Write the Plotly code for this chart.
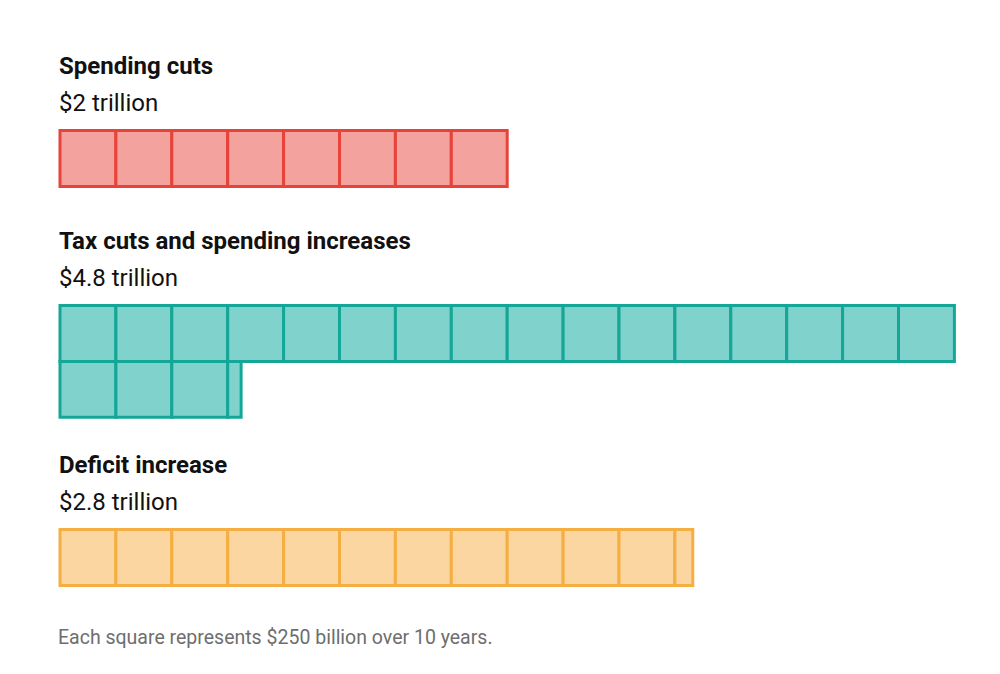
import math
import plotly.graph_objects as go

# ---- data ----
categories = ["Spending cuts", "Tax cuts and spending increases", "Deficit increase"]
values_trillion = [2.0, 4.81, 2.83]          # as drawn by the squares
amount_labels = ["$2 trillion", "$4.8 trillion", "$2.8 trillion"]
square_value_trillion = 0.25
squares_per_row = 16
footnote = "Each square represents $250 billion over 10 years."

# ---- styles ----
fills = ["#f4a29d", "#80d3cd", "#fbd6a0"]
edges = ["#e6433b", "#14a697", "#f5ae42"]
PX = 55.9  # pixels per square
row_tops_px = [130.5, 305.5, 529.5]
row_tops = [t / PX for t in row_tops_px]   # in square units (y axis downward)

PAGE_OFFSET = 8  # browser default body margin
W, H = 1000 - 2 * PAGE_OFFSET, 674 - 2 * PAGE_OFFSET
x0_px = 60.0

fig = go.Figure()
shapes = []
annotations = []

for k, (cat, val, lab) in enumerate(zip(categories, values_trillion, amount_labels)):
    n = val / square_value_trillion
    full = int(math.floor(n + 1e-9))
    rem = n - full
    top = row_tops[k]
    cells = [(i, 1.0) for i in range(full)]
    if rem > 1e-6:
        cells.append((full, rem))
    for i, w in cells:
        r, c = divmod(i, squares_per_row)
        shapes.append(dict(
            type="rect", xref="x", yref="y",
            x0=c, x1=c + w, y0=top + r, y1=top + r + 1,
            fillcolor=fills[k], line=dict(color=edges[k], width=3),
            layer="above",
        ))
    annotations.append(dict(
        x=-0.05, y=top - 1.16, xref="x", yref="y", text=cat, showarrow=False,
        xanchor="left", yanchor="middle",
        font=dict(family="Roboto", size=24, color="#111111", weight="bold"),
    ))
    annotations.append(dict(
        x=-0.05, y=top - 0.5, xref="x", yref="y", text=lab, showarrow=False,
        xanchor="left", yanchor="middle",
        font=dict(family="Roboto", size=24, color="#111111"),
    ))

annotations.append(dict(
    x=-0.07, y=637 / PX, xref="x", yref="y", text=footnote, showarrow=False,
    xanchor="left", yanchor="middle",
    font=dict(family="Roboto", size=19.5, color="#6e6e6e"),
))

# invisible trace to establish axes
fig.add_trace(go.Scatter(x=[0], y=[0], mode="markers", marker=dict(opacity=0),
                         hoverinfo="skip", showlegend=False))

fig.update_layout(
    width=W, height=H,
    margin=dict(l=0, r=0, t=0, b=0),
    paper_bgcolor="white", plot_bgcolor="white",
    shapes=shapes, annotations=annotations,
    xaxis=dict(range=[-(x0_px - PAGE_OFFSET) / PX, (W + PAGE_OFFSET - x0_px) / PX],
               visible=False, fixedrange=True),
    yaxis=dict(range=[(H + PAGE_OFFSET) / PX, PAGE_OFFSET / PX], visible=False, fixedrange=True),
    showlegend=False,
)

fig.write_html("out.html")
